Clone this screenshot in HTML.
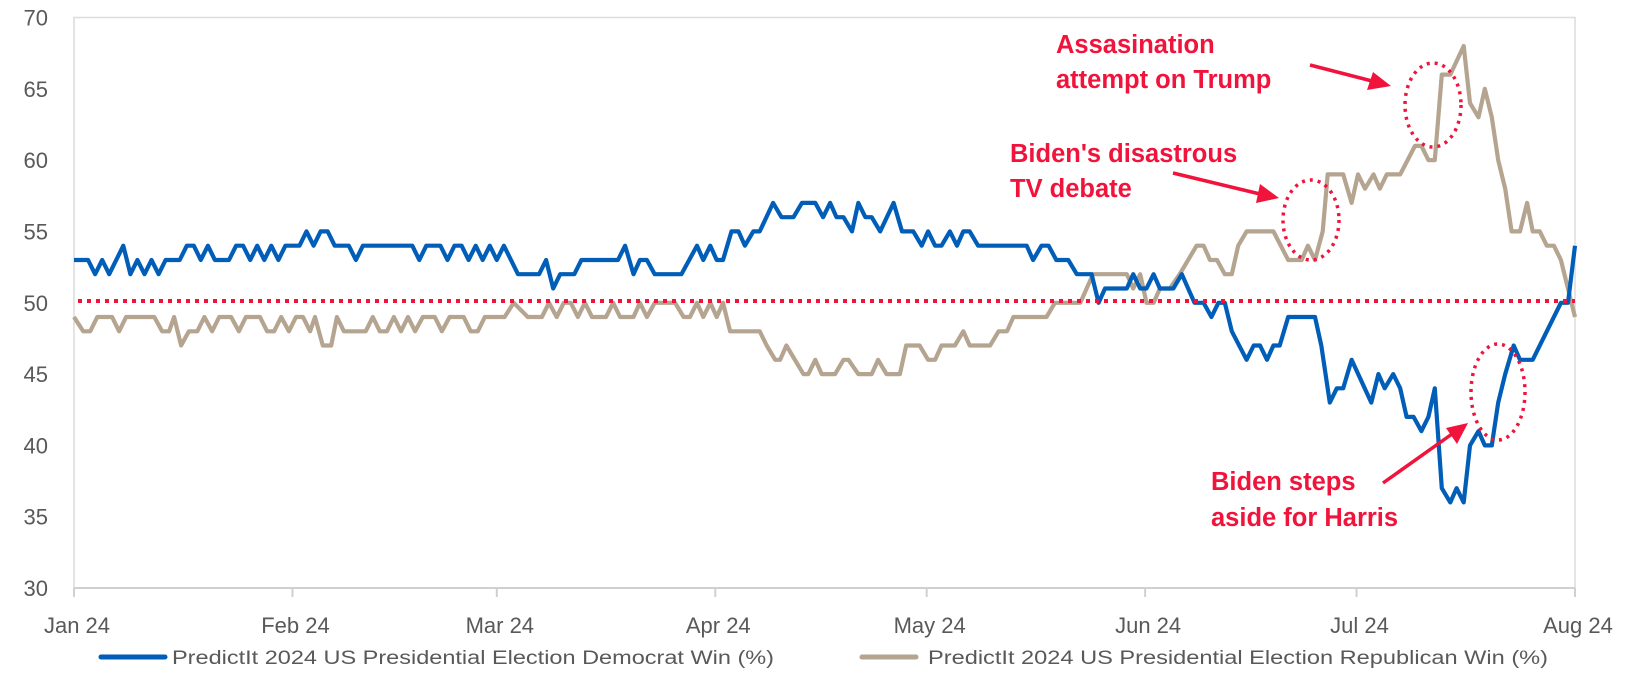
<!DOCTYPE html>
<html><head><meta charset="utf-8"><style>
html,body{margin:0;padding:0;background:#fff;}
svg{display:block;font-family:"Liberation Sans",sans-serif;}
</style></head><body>
<svg id="chart" width="1632" height="677" viewBox="0 0 1632 677" xmlns="http://www.w3.org/2000/svg">
<g id="axes"></g>
<g id="series"></g>
<g id="annot">
  <line x1="78" y1="301" x2="1575" y2="301" stroke="#F0143C" stroke-width="4" stroke-dasharray="4,5"/>
  <text font-size="25.5" font-weight="bold" fill="#F0143C"><tspan x="1056" y="53">Assasination</tspan><tspan x="1056" y="88">attempt on Trump</tspan></text>
  <text font-size="25.5" font-weight="bold" fill="#F0143C"><tspan x="1010" y="162">Biden's disastrous</tspan><tspan x="1010" y="197">TV debate</tspan></text>
  <text font-size="25.5" font-weight="bold" fill="#F0143C"><tspan x="1211" y="490">Biden steps</tspan><tspan x="1211" y="526">aside for Harris</tspan></text>
  <ellipse cx="1433" cy="105" rx="28" ry="42" fill="none" stroke="#F0143C" stroke-width="3.5" stroke-dasharray="3,5"/>
  <ellipse cx="1311" cy="220" rx="28" ry="40" fill="none" stroke="#F0143C" stroke-width="3.5" stroke-dasharray="3,5"/>
  <ellipse cx="1498" cy="392" rx="27" ry="48" fill="none" stroke="#F0143C" stroke-width="3.5" stroke-dasharray="3,5"/>
  <g><line x1="1310" y1="65" x2="1372" y2="81" stroke="#F0143C" stroke-width="3.5"/><polygon points="1391,86 1367,90 1373,72" fill="#F0143C"/></g>
  <g><line x1="1173" y1="173" x2="1260" y2="194" stroke="#F0143C" stroke-width="3.5"/><polygon points="1279,198 1256,203 1260,184" fill="#F0143C"/></g>
  <g><line x1="1383" y1="483" x2="1452" y2="434" stroke="#F0143C" stroke-width="3.5"/><polygon points="1468,423 1457,444 1446,428" fill="#F0143C"/></g>
</g>
<g id="legend">
  <g><line x1="101" y1="657" x2="165" y2="657" stroke="#005EB8" stroke-width="5" stroke-linecap="round"/><text x="172" y="664" font-size="19" fill="#595959" textLength="602" lengthAdjust="spacingAndGlyphs">PredictIt 2024 US Presidential Election Democrat Win (%)</text></g>
  <g><line x1="862" y1="657" x2="916" y2="657" stroke="#B5A48F" stroke-width="5" stroke-linecap="round"/><text x="928" y="664" font-size="19" fill="#595959" textLength="620" lengthAdjust="spacingAndGlyphs">PredictIt 2024 US Presidential Election Republican Win (%)</text></g>
</g>
</svg>
<script>
const monthLabels = ["Jan 24","Feb 24","Mar 24","Apr 24","May 24","Jun 24","Jul 24","Aug 24"];
const monthDays = [0,31,60,91,121,152,182,213];
const yTicks = [30,35,40,45,50,55,60,65,70];
const demDays = [0,2,3,4,5,7,8,9,10,11,12,13,15,16,17,18,19,20,22,23,24,25,26,27,28,29,30,32,33,34,35,36,37,39,40,41,48,49,50,52,53,54,55,56,57,58,59,60,61,63,66,67,68,69,71,72,
77.2,78.2,79.4,80.3,81.3,82.4,86.2,88.4,89.3,90.3,91.2,92.1,93.3,94.3,95.2,96.4,97.3,99.2,100.4,102.1,103.3,105.2,106.3,107.3,108.2,109.2,110.4,111.3,112.3,113.2,114.4,116.3,117.5,119.1,120.3,121.2,122.2,123.1,124.3,125.3,126.2,127.1,128.3,135.2,136.1,137.3,138.3,139.4,141.1,142.3,144.4,145.4,146.3,149.4,150.3,151.3,152.2,153.2,154.1,156.0,157.2,159.0,160.3,161.4,162.4,163.3,164.3,166.4,167.4,168.3,169.3,170.2,171.1,172.3,176.1,177.0,178.2,179.2,180.1,181.3,184.1,185.1,186.0,187.2,188.2,189.1,190.1,191.2,192.2,193.1,194.1,195.3,196.2,197.2,198.1,199.3,200.2,201.2,202.1,203.1,204.3,205.2,206.2,207,211,212,213];
const demVals = [53,53,52,53,52,54,52,53,52,53,52,53,53,54,54,53,54,53,53,54,54,53,54,53,54,53,54,54,55,54,55,55,54,54,53,54,54,53,54,54,53,54,54,53,54,53,54,53,54,52,52,53,51,52,52,53,
53,54,52,53,53,52,52,54,53,54,53,53,55,55,54,55,55,57,56,56,57,57,56,57,56,56,55,57,56,56,55,57,55,55,54,55,54,54,55,54,55,55,54,54,53,54,54,53,53,52,52,50,51,51,52,51,51,52,51,51,52,50,50,49,50,50,48,46,47,47,46,47,47,49,49,47,43,44,44,46,43,45,44,45,44,42,42,41,42,44,37,36,37,36,40,41,40,40,43,45,47,46,46,46,50,50,54];
const repDays = [0,1.3,2.3,3.3,5.4,6.4,7.4,11.4,12.5,13.5,14.2,15.2,16.3,17.5,18.5,19.6,20.6,22.3,23.4,24.4,26.4,27.4,28.4,29.4,30.5,31.5,32.5,33.5,34.2,35.3,36.5,37.3,38.3,41.4,42.4,43.4,44.4,45.4,46.4,47.4,48.4,49.5,51.2,52.2,53.3,55.3,56.3,57.3,58.3,61.1,62.4,64.4,66.4,67.4,68.5,69.5,70.5,71.5,72.5,73.5,75.5,76.5,
77.5,79.4,80.3,81.3,82.4,85.3,86.5,87.4,88.4,89.3,90.3,91.2,92.1,93.1,97.3,98.3,99.5,100.2,101.1,102.3,103.5,104.2,105.2,106.1,108.0,109.2,109.9,111.3,113.2,114.1,115.3,117.2,118.1,120.0,121.2,122.2,123.1,125.0,126.2,127.1,130.0,131.2,132.4,133.3,138.0,139.2,142.8,144.6,149.4,150.3,151.3,152.2,153.2,154.1,155.5,156.9,159.3,160.3,161.2,162.2,163.3,164.3,165.2,166.4,170.2,172.3,174.2,175.1,176.1,177.2,177.9,180.1,181.3,182.2,183.2,184.4,185.3,186.3,188.2,190.3,191.2,192.2,193.1,194.1,195.3,197.2,198.1,199.3,200.2,201.2,202.1,203.1,204.0,205.2,206.2,207,208,209,210,211,213];
const repVals = [49,48,48,49,49,48,49,49,48,48,49,47,48,48,49,48,49,49,48,49,49,48,48,49,48,49,49,48,49,47,47,49,48,48,49,48,48,49,48,49,48,49,49,48,49,49,48,48,49,49,50,49,49,50,49,50,50,49,50,49,49,50,
49,49,50,49,50,50,49,49,50,49,50,49,50,48,48,47,46,46,47,46,45,45,46,45,45,46,46,45,45,46,45,45,47,47,46,46,47,47,48,47,47,48,48,49,49,50,50,52,52,51,52,50,50,51,51,52,54,54,53,53,52,52,54,55,55,53,53,54,53,55,59,59,57,59,58,59,58,59,59,61,61,60,60,66,66,68,64,63,65,63,60,58,55,55,57,55,55,54,54,53,49];

const X0 = 74, PXD = (1575 - 74) / 213;
const Y30 = 588, PXU = (588 - 17.5) / 40;
const xs = d => X0 + d * PXD;
const ys = v => Y30 - (v - 30) * PXU;
const NS = "http://www.w3.org/2000/svg";
const axes = document.getElementById('axes');
function mk(tag, attrs, parent){const e=document.createElementNS(NS,tag);for(const k in attrs)e.setAttribute(k,attrs[k]);parent.appendChild(e);return e;}

const frame = mk('rect',{x:X0,y:17.5,width:1575-X0,height:Y30-17.5,fill:'none',stroke:'#dcdcdc','stroke-width':1.5},axes);


const xaxis = mk('line',{x1:X0,y1:Y30,x2:1575,y2:Y30,stroke:'#d0d0d0','stroke-width':2},axes);



yTicks.forEach(t=>{
  const tx = mk('text',{x:48,y:ys(t)+8,'font-size':22,fill:'#595959','text-anchor':'end'},axes);
  tx.textContent = t;
  
  
});
monthDays.forEach((d,i)=>{
  const tk = mk('line',{x1:xs(d),y1:Y30,x2:xs(d),y2:Y30+9,stroke:'#d0d0d0','stroke-width':2},axes);
  
  
  const tx = mk('text',{x:xs(d)+3,y:Y30+45,'font-size':22,fill:'#595959','text-anchor':'middle'},axes);
  tx.textContent = monthLabels[i];
  
  
});

const series = document.getElementById('series');
function line(days, vals, color, name){
  const pts = days.map((d,i)=>xs(d).toFixed(1)+','+ys(vals[i]).toFixed(1)).join(' ');
  const p = mk('polyline',{points:pts,fill:'none',stroke:color,'stroke-width':4.2,'stroke-linejoin':'round'},series);
  
  
}
line(repDays, repVals, '#B5A48F', 'republican-win-line');
line(demDays, demVals, '#005EB8', 'democrat-win-line');
</script>
</body></html>
